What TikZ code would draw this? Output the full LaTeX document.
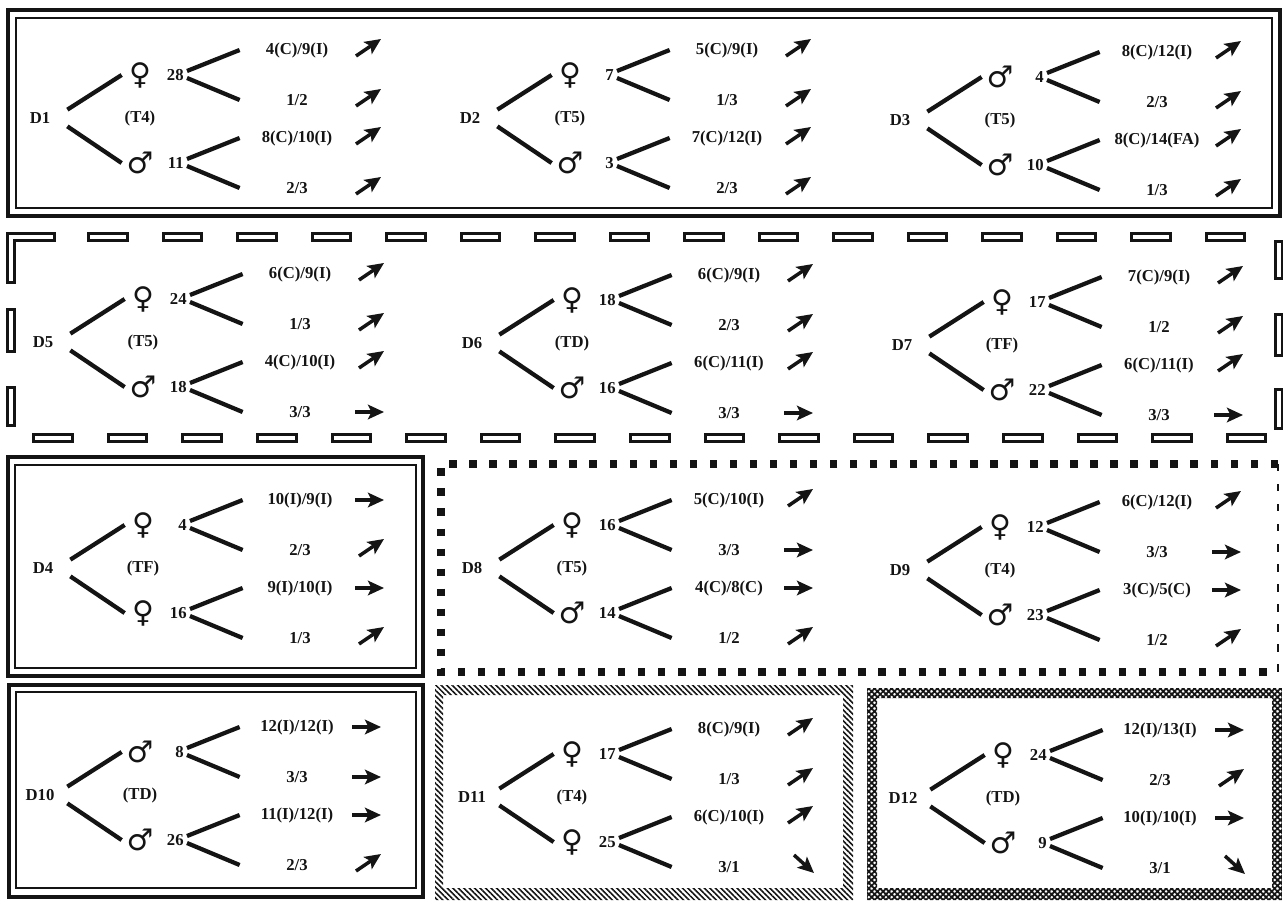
\documentclass[tikz,border=0pt]{standalone}
\usepackage{fontspec}
\setmainfont{Liberation Serif}
\newfontfamily\symfont{DejaVu Sans Bold}
\usepackage{tikz}
\usetikzlibrary{arrows.meta, patterns.meta}
\definecolor{my_ink}{HTML}{141414}

%% Kopf eines Durchgangs: Name und Typ
\newcommand{\drawgroup}[4]{%
  \node[grp] (#1) at (#2) {#3};
  \node[kindlabel] (#1-k) at ([xshift=20mm]#1.center) {(#4)};
}
%% Ein Ast: #2 = north/south, #3 = Hoehe des Symbols
\newcommand{\drawbranch}[9]{%
  \begin{scope}[shift={(#1.center)}]
    \node[sexsym] (#1-#2-s) at (100,#3) {#4};
    \node[tally] (#1-#2-n) at (147,#3) {#5};
    \node[outcome] (#1-#2-a) at (257,{#3-25}) {#6};
    \node[outcome] (#1-#2-b) at (257,{#3+25}) {#8};
    \coordinate (#1-#2-ta) at (328,{#3-25});
    \coordinate (#1-#2-tb) at (328,{#3+25});
  \end{scope}
  \draw[branchline] (#1.#2 east) -- (#1-#2-s.west);
  \draw[branchline] ([yshift=0.8mm]#1-#2-n.east) -- (#1-#2-a.west);
  \draw[branchline] ([yshift=-0.6mm]#1-#2-n.east) -- (#1-#2-b.west);
  \pic at (#1-#2-ta) {trend#7};
  \pic at (#1-#2-tb) {trend#9};
}

\begin{document}
\begin{tikzpicture}[
    x=0.2mm, y=-0.2mm,
    labelfont/.style={font=\bfseries\fontsize{9.5}{11}\selectfont, text=my_ink},
    grp/.style={labelfont, minimum width=10.8mm, minimum height=3.2mm, inner sep=0pt},
    kindlabel/.style={labelfont, inner sep=0pt},
    sexsym/.style={font=\symfont\fontsize{17}{17}\selectfont, text=my_ink,
        minimum width=7.2mm, inner sep=0pt},
    tally/.style={labelfont, anchor=east, inner xsep=0.6mm, inner ysep=0pt},
    outcome/.style={labelfont, minimum width=22.8mm, inner sep=0pt},
    branchline/.style={draw=my_ink, line width=0.85mm},
    trend/.style={draw=my_ink, line width=0.7mm,
        -{Stealth[length=3.2mm, width=2.9mm, inset=0.7mm]}},
    trendup/.pic={\draw[trend] (-12,6) -- (13,-11);},
    trendflat/.pic={\draw[trend] (-16,0) -- (13,0);},
    trenddown/.pic={\draw[trend] (-6,-12) -- (14,6);},
    frameouter/.style={draw=my_ink, line width=0.75mm},
    frameinner/.style={draw=my_ink, line width=0.35mm},
    hollow/.style={draw=my_ink, line width=0.6mm, double=white,
        double distance=0.7mm, line cap=rect},
    squares/.style={draw=my_ink, line width=1.5mm, dash pattern=on 4.2pt off 7.2pt}
]
\useasboundingbox (0,0) rectangle (1283,900);

%% ---- Rahmen Reihe 1 (doppelte Linie) ----
\draw[frameouter] (8,10) rectangle (1280,216);
\draw[frameinner] (16,18) rectangle (1272,208);

%% ---- Rahmen Reihe 2 (hohle Striche) ----
\foreach \x in {87, 161.5, ..., 1210} {
    \draw[hollow] ({\x+5},237) -- ({\x+37},237);
}
\foreach \x in {32, 106.6, ..., 1230} {
    \draw[hollow] ({\x+5},438) -- ({\x+37},438);
}
\draw[hollow] (11,279) -- (11,237) -- (51,237);
\draw[hollow] (11,313) -- (11,348);
\draw[hollow] (11,391) -- (11,422);
\draw[hollow] (1279,245) -- (1279,275);
\draw[hollow] (1279,318) -- (1279,352);
\draw[hollow] (1279,393) -- (1279,425);

%% ---- Rahmen D4 und D10 (doppelte Linie) ----
\draw[frameouter] (8,457) rectangle (423,676);
\draw[frameinner] (15,465) rectangle (416,668);
\draw[frameouter] (9,685) rectangle (423,897);
\draw[frameinner] (16,692) rectangle (416,888);

%% ---- Rahmen D8/D9 (Quadrate) ----
\draw[squares] (1278,464) -- (441,464) -- (441,672) -- (1278,672);
\draw[squares, line width=0.5mm] (1278,464) -- (1278,672);

%% ---- Rahmen D11 (schraffiert) und D12 (Gitter) ----
\fill[pattern={Lines[angle=-45, distance=2.2pt, line width=0.9pt]},
      pattern color=my_ink, even odd rule]
    (435,685) rectangle (853,900) (443,695) rectangle (843,888);
\fill[pattern={Hatch[angle=45, distance=2.3pt, line width=1pt]},
      pattern color=my_ink, even odd rule]
    (867,688) rectangle (1282,900) (877,698) rectangle (1272,888);

%% ================================================================
%% Durchgaenge
%% ================================================================

%% Reihe 1
\drawgroup{d1}{40,118}{D1}{T4}
\drawbranch{d1}{north}{-43}{♀}{28}{4(C)/9(I)}{up}{1/2}{up}
\drawbranch{d1}{south}{45}{♂}{11}{8(C)/10(I)}{up}{2/3}{up}
\drawgroup{d2}{470,118}{D2}{T5}
\drawbranch{d2}{north}{-43}{♀}{7}{5(C)/9(I)}{up}{1/3}{up}
\drawbranch{d2}{south}{45}{♂}{3}{7(C)/12(I)}{up}{2/3}{up}
\drawgroup{d3}{900,120}{D3}{T5}
\drawbranch{d3}{north}{-43}{♂}{4}{8(C)/12(I)}{up}{2/3}{up}
\drawbranch{d3}{south}{45}{♂}{10}{8(C)/14(FA)}{up}{1/3}{up}

%% Reihe 2
\drawgroup{d5}{43,342}{D5}{T5}
\drawbranch{d5}{north}{-43}{♀}{24}{6(C)/9(I)}{up}{1/3}{up}
\drawbranch{d5}{south}{45}{♂}{18}{4(C)/10(I)}{up}{3/3}{flat}
\drawgroup{d6}{472,343}{D6}{TD}
\drawbranch{d6}{north}{-43}{♀}{18}{6(C)/9(I)}{up}{2/3}{up}
\drawbranch{d6}{south}{45}{♂}{16}{6(C)/11(I)}{up}{3/3}{flat}
\drawgroup{d7}{902,345}{D7}{TF}
\drawbranch{d7}{north}{-43}{♀}{17}{7(C)/9(I)}{up}{1/2}{up}
\drawbranch{d7}{south}{45}{♂}{22}{6(C)/11(I)}{up}{3/3}{flat}

%% Reihe 3
\drawgroup{d4}{43,568}{D4}{TF}
\drawbranch{d4}{north}{-43}{♀}{4}{10(I)/9(I)}{flat}{2/3}{up}
\drawbranch{d4}{south}{45}{♀}{16}{9(I)/10(I)}{flat}{1/3}{up}
\drawgroup{d8}{472,568}{D8}{T5}
\drawbranch{d8}{north}{-43}{♀}{16}{5(C)/10(I)}{up}{3/3}{flat}
\drawbranch{d8}{south}{45}{♂}{14}{4(C)/8(C)}{flat}{1/2}{up}
\drawgroup{d9}{900,570}{D9}{T4}
\drawbranch{d9}{north}{-43}{♀}{12}{6(C)/12(I)}{up}{3/3}{flat}
\drawbranch{d9}{south}{45}{♂}{23}{3(C)/5(C)}{flat}{1/2}{up}

%% Reihe 4
\drawgroup{d10}{40,795}{D10}{TD}
\drawbranch{d10}{north}{-43}{♂}{8}{12(I)/12(I)}{flat}{3/3}{flat}
\drawbranch{d10}{south}{45}{♂}{26}{11(I)/12(I)}{flat}{2/3}{up}
\drawgroup{d11}{472,797}{D11}{T4}
\drawbranch{d11}{north}{-43}{♀}{17}{8(C)/9(I)}{up}{1/3}{up}
\drawbranch{d11}{south}{45}{♀}{25}{6(C)/10(I)}{up}{3/1}{down}
\drawgroup{d12}{903,798}{D12}{TD}
\drawbranch{d12}{north}{-43}{♀}{24}{12(I)/13(I)}{flat}{2/3}{up}
\drawbranch{d12}{south}{45}{♂}{9}{10(I)/10(I)}{flat}{3/1}{down}

\end{tikzpicture}
\end{document}
